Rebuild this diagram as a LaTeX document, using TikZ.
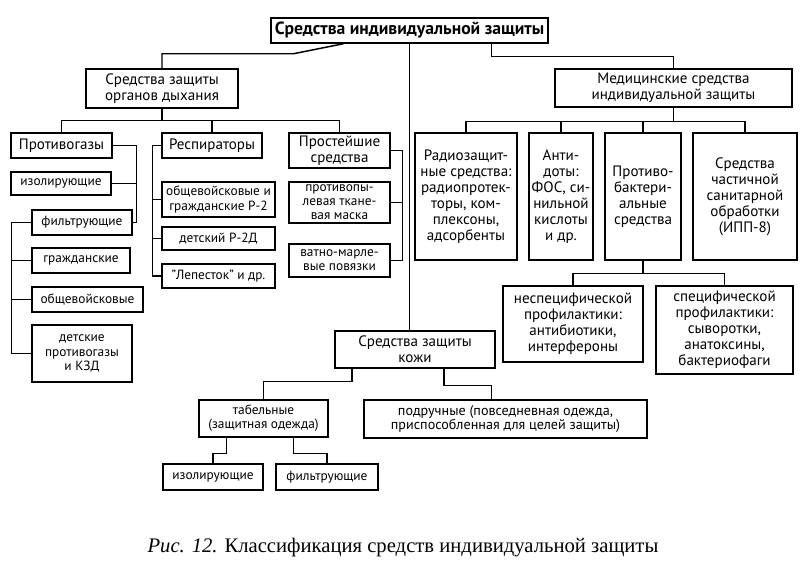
\documentclass[tikz,border=0pt]{standalone}
\usepackage{fontspec}
\setmainfont{PT Sans}
\newfontfamily\capfont{Liberation Serif}
\usetikzlibrary{calc}

\tikzset{
 box/.style={draw, line width=1.1pt, inner sep=1pt, align=center, font=\fontsize{11.3}{12}\selectfont},
 subbox/.style={box, font=\fontsize{10}{10.6}\selectfont},
 topbox/.style={box, font=\fontsize{13.2}{14}\selectfont\bfseries},
 link/.style={line width=1.1pt},
}
% box from its corners (in pixels): style, name, x1, y1, x2, y2, text
\newcommand{\boxat}[7][box]{\node[#1, minimum width={(#5-#3)*0.75pt}, minimum height={(#6-#4)*0.75pt}] (#2) at ({(#3+#5)/2},{(#4+#6)/2}) {#7};}

\begin{document}
\begin{tikzpicture}[x=0.75pt, y=-0.75pt]
\fill[white] (0,0) rectangle (800,571);
\useasboundingbox (0,0) rectangle (800,571);
% top
\boxat[topbox]{title}{271}{18}{548}{43}{Средства индивидуальной защиты}
\boxat{resp}{86}{69}{238}{108}{Средства защиты\\органов дыхания}
\boxat{med}{555}{69}{792}{107}{Медицинские средства\\индивидуальной защиты}
\boxat{skin}{335}{331}{495}{368}{Средства защиты\\кожи}
% breathing
\boxat{gas}{11}{133}{112}{158}{Противогазы}
\boxat{rsp}{162}{133}{262}{158}{Респираторы}
\boxat{simp}{289}{133}{390}{168}{Простейшие\\средства}
\boxat[subbox]{gizol}{11}{172}{111}{195}{изолирующие}
\boxat[subbox]{gfilt}{32}{210}{132}{235}{фильтрующие}
\boxat[subbox]{gciv}{32}{248}{130}{273}{гражданские}
\boxat[subbox]{gmil}{32}{287}{143}{312}{общевойсковые}
\boxat[subbox]{gkid}{32}{325}{132}{382}{детские\\противогазы\\и КЗД}
\boxat[subbox]{r2}{162}{182}{275}{217}{общевойсковые и\\гражданские Р-2}
\boxat[subbox]{r2d}{162}{227}{275}{250}{детский Р-2Д}
\boxat[subbox]{lep}{162}{264}{275}{288}{"Лепесток" и др.}
\boxat[subbox]{mask}{289}{182}{390}{223}{противопы-\\левая ткане-\\вая маска}
\boxat[subbox]{band}{289}{244}{390}{277}{ватно-марле-\\вые повязки}
% medical
\boxat{radio}{415}{133}{517}{260}{Радиозащит-\\ные средства:\\радиопротек-\\торы, ком-\\плексоны,\\адсорбенты}
\boxat{anti}{529}{133}{593}{260}{Анти-\\доты:\\ФОС, си-\\нильной\\кислоты\\и др.}
\boxat{bact}{605}{133}{681}{260}{Противо-\\бактери-\\альные\\средства}
\boxat{sanit}{693}{133}{797}{260}{Средства\\частичной\\санитарной\\обработки\\(ИПП-8)}
\boxat{nonsp}{503}{286}{643}{362}{неспецифической\\профилактики:\\антибиотики,\\интерфероны}
\boxat{spec}{656}{286}{793}{374}{специфической\\профилактики:\\сыворотки,\\анатоксины,\\бактериофаги}
% skin
\boxat[subbox]{tab}{199}{400}{328}{437}{табельные\\(защитная одежда)}
\boxat[subbox, font=\fontsize{10.6}{11}\selectfont]{hand}{364}{400}{647}{438}{подручные (повседневная одежда,\\приспособленная для целей защиты)}
\boxat[subbox]{sizol}{163}{464}{263}{490}{изолирующие}
\boxat[subbox]{sfilt}{276}{464}{378}{490}{фильтрующие}
% links
\draw[link] ($(title.south)+(-66,0)$) -- ++(-50,10) -| (resp.north);
\draw[link] ($(title.south)+(82,0)$) -- ++(0,13) -| (med.north);
\draw[link] (title.south) -- (title.south |- skin.north);
\coordinate (rj) at ($(resp.south)+(0,12)$);
\draw[link] (resp.south) -- (rj);
\draw[link] (gas.north) |- (rj) -| (simp.north);
\draw[link] (rsp.north) -- (rsp.north |- rj);
\coordinate (mj) at ($(med.south)+(0,14)$);
\draw[link] (med.south) -- (mj);
\draw[link] (radio.north) |- (mj) -| (sanit.north);
\foreach \n in {anti,bact}
 \draw[link] (\n.north) -- (\n.north |- mj);
\coordinate (bj) at ($(bact.south)+(0,13)$);
\draw[link] (bact.south) -- (bj);
\draw[link] (nonsp.north) |- (bj) -| (spec.north);
\draw[link] (gas.east) -- ++(24,0) |- (gfilt.east);
\draw[link] (gizol.east) -- ++(25,0);
\draw[link] (gfilt.west) -- ++(-20,0) |- (gkid.west);
\foreach \n in {gciv,gmil}
 \draw[link] (\n.west) -- ++(-20,0);
\draw[link] (rsp.west) -- ++(-9,0) |- (lep.west);
\foreach \n in {r2,r2d}
 \draw[link] (\n.west) -- ++(-9,0);
\draw[link] (simp.east) -- ++(12,0) |- (band.east);
\draw[link] (mask.east) -- ++(12,0);
\draw[link] ($(skin.south)+(-63,0)$) -- ++(0,13) -| (tab.north);
\draw[link] ($(skin.south)+(29,0)$) -- ++(0,17) -| ($(hand.north)+(-14,0)$);
\draw[link] ($(tab.south)+(-37,0)$) -- ++(0,16) -| (sizol.north);
\draw[link] ($(tab.south)+(30,0)$) -- ++(0,16) -| (sfilt.north);
% caption
\node[font=\capfont\fontsize{15.5}{17}\selectfont] (cap) at (403,548) {\textit{Рис. 12.} Классификация средств индивидуальной защиты};
\end{tikzpicture}
\end{document}
